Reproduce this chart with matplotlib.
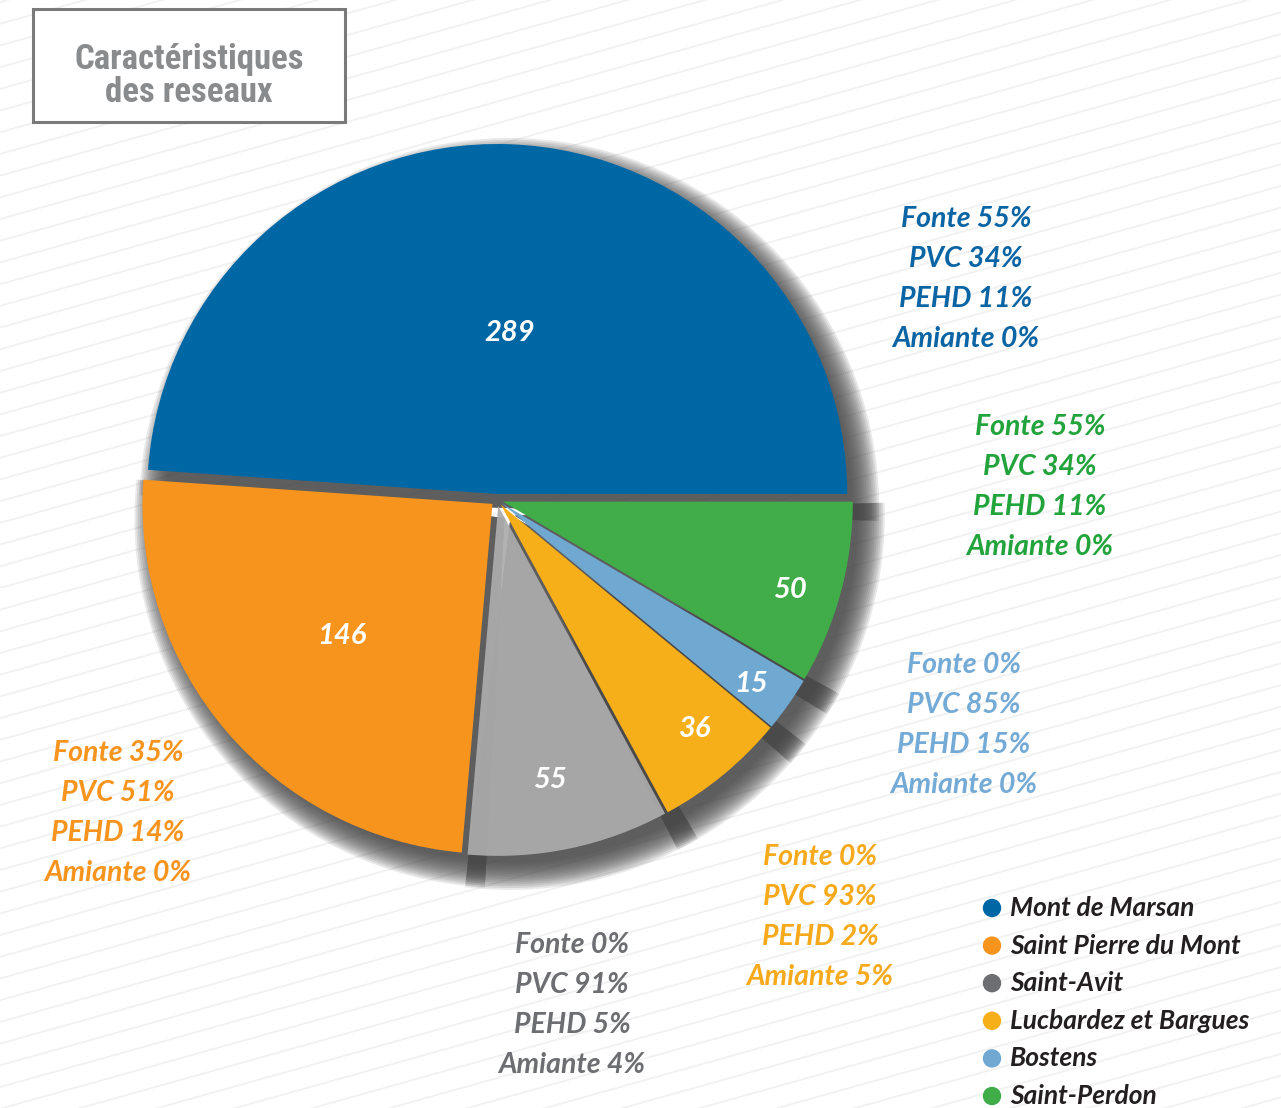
import numpy as np
import matplotlib
matplotlib.use('Agg')
import matplotlib.pyplot as plt
from matplotlib.patches import Wedge, Rectangle, Circle


W, H = 1281, 1108

communes = ['Mont de Marsan', 'Saint Pierre du Mont', 'Saint-Avit',
            'Lucbardez et Bargues', 'Bostens', 'Saint-Perdon']
lengths = [289, 146, 55, 36, 15, 50]
slice_colors = ['#0067a5', '#f7941e', '#acacac', '#f6ae19', '#6fa8d1', '#40ad49']
label_colors = ['#0b64a3', '#f7941e', '#6d6e71', '#f6a91b', '#74aad6', '#22a33b']
legend_colors = ['#0067a5', '#f7941e', '#6d6e71', '#f6ae19', '#6fa8d1', '#40ad49']

fonte = [55, 35, 0, 0, 0, 55]
pvc = [34, 51, 91, 93, 85, 34]
pehd = [11, 14, 5, 2, 15, 11]
amiante = [0, 0, 4, 5, 0, 0]

# where each block of material percentages sits (pixel coords, centre of first line)
mat_pos = [(966, 219), (118, 753), (572, 945), (820, 857), (964, 665), (1040, 427)]
# where the value sits inside the slice
val_pos = [(510, 333), (342, 636), (550, 780), (695, 729), (751, 684), (790, 590)]

CX, CY, R = 497, 500, 350
EXPLODE = 6
FONT = ['Lato', 'DejaVu Sans']
TITLE_FONT = ['Roboto Condensed', 'Liberation Sans Narrow', 'DejaVu Sans']

fig = plt.figure(figsize=(W / 100, H / 100), dpi=100)
ax = fig.add_axes([0, 0, 1, 1])
ax.set_xlim(0, W)
ax.set_ylim(H, 0)
ax.axis('off')

# background stripes
slope = 0.28
xs = np.array([0, W])
for b in np.arange(-400, H + 40, 21.7):
    ax.plot(xs, b - slope * xs + slope * W, color='#f1f1f1', lw=1.3, zorder=0)

# angles (visual, counter clockwise from 3 o'clock)
total = sum(lengths)
bounds = np.concatenate([[0], np.cumsum(lengths)]) / total * 360


def origin(i):
    mid = np.deg2rad((bounds[i] + bounds[i + 1]) / 2)
    return CX + EXPLODE * np.cos(mid), CY - EXPLODE * np.sin(mid)


# soft shadows first
for i in range(len(lengths)):
    a1, a2 = bounds[i], bounds[i + 1]
    ox, oy = origin(i)
    for k in range(16):
        ax.add_patch(Wedge((ox + 12, oy + 14), R + 20 - k * 1.8, -a2 - 2, -a1 + 2,
                           color='#4a4a4a', alpha=0.12, lw=0, zorder=1))

for i in range(len(lengths)):
    a1, a2 = bounds[i], bounds[i + 1]
    ox, oy = origin(i)
    alpha = 0.93 if i == 2 else 1
    ax.add_patch(Wedge((ox, oy), R, -a2, -a1, facecolor=slice_colors[i],
                       edgecolor='none', alpha=alpha, zorder=2))
    ax.text(val_pos[i][0], val_pos[i][1], str(lengths[i]), color='white', fontsize=21,
            fontstyle='italic', fontweight='bold', family=FONT,
            ha='center', va='center', zorder=5)
    lines = [f'Fonte {fonte[i]}%', f'PVC {pvc[i]}%', f'PEHD {pehd[i]}%', f'Amiante {amiante[i]}%']
    for j, t in enumerate(lines):
        ax.text(mat_pos[i][0], mat_pos[i][1] + 40 * j, t, color=label_colors[i], fontsize=20.5,
                fontstyle='italic', fontweight='bold', family=FONT,
                ha='center', va='center', zorder=5)

# legend
for i, name in enumerate(communes):
    y = 908 + 37.6 * i
    ax.add_patch(Circle((992, y), 8.5, color=legend_colors[i], zorder=5))
    ax.text(1010, y, name, color='#231f20', fontsize=19, fontstyle='italic',
            fontweight='bold', family=FONT, ha='left', va='center', zorder=5)

# title box
ax.add_patch(Rectangle((33, 9), 312, 113, facecolor='white', edgecolor='#7a7a7a',
                       lw=2.2, zorder=4))
ax.text(189, 60, 'Caractéristiques', color='#8a8b8d', fontsize=25, fontweight='bold',
        fontstretch='condensed', family=TITLE_FONT, ha='center', va='center', zorder=5)
ax.text(189, 92, 'des reseaux', color='#8a8b8d', fontsize=25, fontweight='bold',
        fontstretch='condensed', family=TITLE_FONT, ha='center', va='center', zorder=5)

fig.savefig('out.png', dpi=100, facecolor='white')
